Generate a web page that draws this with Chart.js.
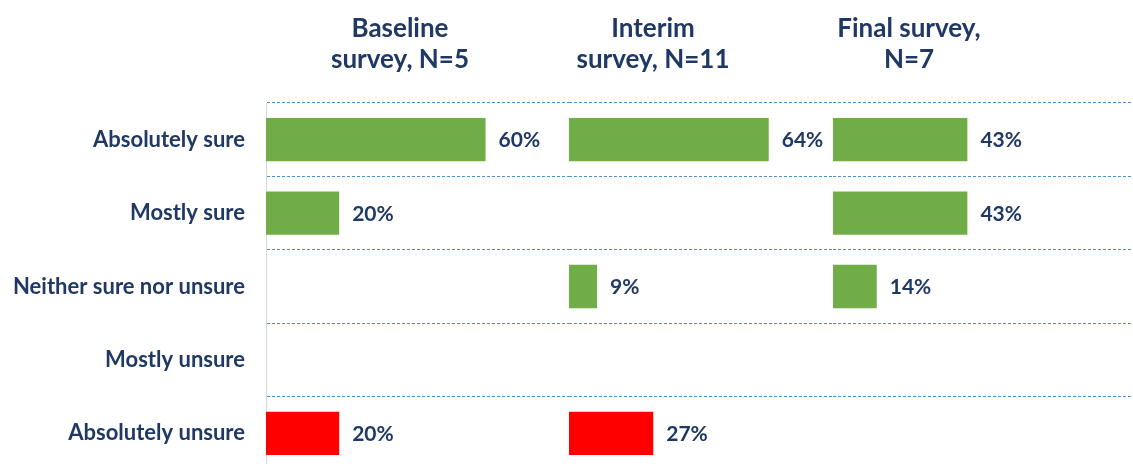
<!DOCTYPE html>
<html>
<head>
<meta charset="utf-8">
<script src="https://cdn.jsdelivr.net/npm/chart.js@4.4.0/dist/chart.umd.min.js"></script>
<style>
  html, body { margin: 0; padding: 0; background: #fff; }
  body { width: 1133px; height: 464px; overflow: hidden; position: relative; font-family: Lato, sans-serif; }
  .panel { position: absolute; top: 0; height: 470px; }
  .title { position: absolute; top: 12px; width: 240px; text-align: center; color: #1f3864;
           font: bold 26px/31px Lato, sans-serif; }
</style>
</head>
<body>
<div class="panel" style="left:0;width:569px"><canvas id="baselineChart"></canvas></div>
<div class="panel" style="left:569px;width:264px"><canvas id="interimChart"></canvas></div>
<div class="panel" style="left:833px;width:300px"><canvas id="finalChart"></canvas></div>

<div class="title" style="left:280px">Baseline<br>survey, N=5</div>
<div class="title" style="left:533px">Interim<br>survey, N=11</div>
<div class="title" style="left:789px">Final survey,<br>N=7</div>

<script>
const categories = ['Absolutely sure', 'Mostly sure', 'Neither sure nor unsure', 'Mostly unsure', 'Absolutely unsure'];
const baselineValues = [60, 20, 0, 0, 20];
const interimValues = [64, 0, 9, 0, 27];
const finalValues = [43, 43, 14, 0, 0];

const navy = '#1f3864';
const barColors = ['#70ad47', '#70ad47', '#70ad47', '#ff0000', '#ff0000'];

// draws the "60%" style label to the right of every bar
const barLabels = {
  id: 'barLabels',
  afterDatasetsDraw(chart) {
    const ctx = chart.ctx;
    const values = chart.data.datasets[0].data;
    ctx.save();
    ctx.font = 'bold 21px Lato';
    ctx.fillStyle = navy;
    ctx.textBaseline = 'middle';
    chart.getDatasetMeta(0).data.forEach((bar, i) => {
      if (!values[i]) return;
      ctx.fillText(values[i] + '%', bar.x + 13, bar.y + 1);
    });
    ctx.restore();
  }
};

function makeChart(id, values, xMax, first) {
  const ctx = document.getElementById(id).getContext('2d');
  return new Chart(ctx, {
    type: 'bar',
    data: {
      labels: categories,
      datasets: [{
        data: values,
        backgroundColor: barColors,
        borderWidth: 0,
        barPercentage: 0.59,
        categoryPercentage: 1
      }]
    },
    options: {
      indexAxis: 'y',
      responsive: true,
      maintainAspectRatio: false,
      animation: false,
      layout: { padding: { top: 103, left: 0, right: 0, bottom: 0 } },
      plugins: {
        legend: { display: false },
        tooltip: { enabled: false }
      },
      scales: {
        x: { display: false, min: 0, max: xMax },
        y: {
          afterFit: (scale) => {
            scale.width = first ? 266 : 0;
            // labels sit in the middle of each band, no extra room needed above/below
            scale.paddingTop = 0;
            scale.paddingBottom = 0;
          },
          grid: { color: '#4a90d2', lineWidth: 1, drawTicks: false, offset: true },
          border: { display: first, color: '#d9d9d9', width: 1, dash: [3, 2] },
          ticks: {
            display: first,
            padding: 21,
            color: navy,
            font: { family: 'Lato', weight: 'bold', size: 22 }
          }
        }
      }
    },
    plugins: [barLabels]
  });
}

makeChart('baselineChart', baselineValues, 82.8, true);
makeChart('interimChart', interimValues, 84.6, false);
makeChart('finalChart', finalValues, 96, false);
</script>
</body>
</html>
